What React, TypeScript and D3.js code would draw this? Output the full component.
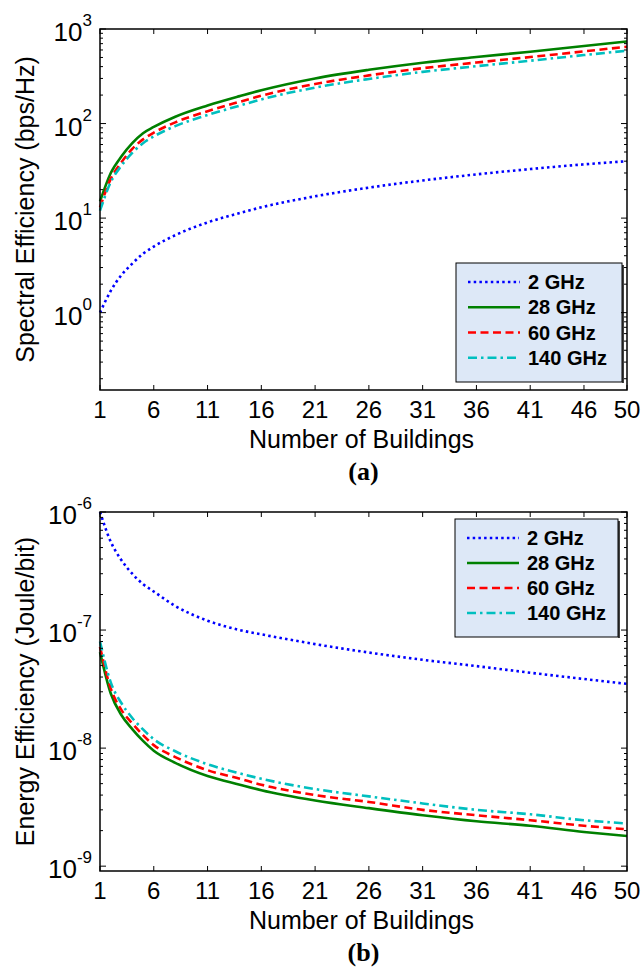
import * as d3 from "d3";

const buildings = [1, 2, 3, 4, 5, 6, 8, 11, 14, 16, 21, 26, 31, 36, 41, 46, 50];
const xTicks = [1, 6, 11, 16, 21, 26, 31, 36, 41, 46, 50];
const legendLabels = ["2 GHz", "28 GHz", "60 GHz", "140 GHz"];

// spectral efficiency (bps/Hz)
const se2 = [1.0, 1.7, 2.5, 3.3, 4.2, 5.0, 6.6, 9.0, 11.3, 13.0, 17.0, 21.0, 25.0, 29.0, 33.0, 37.0, 40.0];
const se28 = [15, 30, 45, 62, 79, 92, 118, 155, 195, 225, 300, 370, 440, 505, 575, 660, 740];
const se60 = [13, 26, 39, 54, 68, 80, 103, 135, 170, 197, 262, 323, 385, 442, 505, 580, 650];
const se140 = [12, 24, 36, 49, 62, 73, 94, 123, 155, 180, 240, 296, 352, 404, 462, 530, 590];

// energy efficiency (Joule/bit)
const ee2 = [1.0e-6, 5.6e-7, 3.9e-7, 3.0e-7, 2.45e-7, 2.12e-7, 1.6e-7, 1.2e-7, 1.0e-7, 9.2e-8, 7.6e-8, 6.45e-8, 5.6e-8, 4.95e-8, 4.35e-8, 3.85e-8, 3.5e-8];
const ee28 = [6.5e-8, 2.9e-8, 1.9e-8, 1.45e-8, 1.15e-8, 9.5e-9, 7.5e-9, 5.8e-9, 4.9e-9, 4.4e-9, 3.6e-9, 3.1e-9, 2.7e-9, 2.4e-9, 2.2e-9, 1.95e-9, 1.8e-9];
const ee60 = [7.2e-8, 3.2e-8, 2.1e-8, 1.62e-8, 1.29e-8, 1.06e-8, 8.4e-9, 6.5e-9, 5.5e-9, 4.9e-9, 4.0e-9, 3.5e-9, 3.0e-9, 2.7e-9, 2.45e-9, 2.2e-9, 2.05e-9];
const ee140 = [8.0e-8, 3.6e-8, 2.4e-8, 1.8e-8, 1.44e-8, 1.19e-8, 9.4e-9, 7.3e-9, 6.1e-9, 5.5e-9, 4.5e-9, 3.9e-9, 3.4e-9, 3.0e-9, 2.75e-9, 2.45e-9, 2.3e-9];

const styles = [
  { color: "#0000ff", dash: "2.5,3.2" },
  { color: "#008000", dash: null },
  { color: "#ff0000", dash: "8,4.5" },
  { color: "#00bfbf", dash: "9,4,2.5,4" },
];

const FONT = "Arial, 'Liberation Sans', sans-serif";

function Panel({ top, bottom, domain, series, yTitle, caption, legendBox }) {
  const left = 100;
  const right = 627;
  const x = d3.scaleLinear().domain([1, 50]).range([left, right]);
  const y = d3.scaleLog().domain(domain).range([bottom, top]);
  const line = d3
    .line<number>()
    .x((_, i) => x(buildings[i]))
    .y((d) => y(d))
    .curve(d3.curveMonotoneX);

  const lo = Math.floor(Math.log10(domain[0]));
  const hi = Math.ceil(Math.log10(domain[1]));
  const major: number[] = [];
  const minor: number[] = [];
  for (let k = lo; k <= hi; k++) {
    const p = Math.pow(10, k);
    if (p >= domain[0] * 0.999 && p <= domain[1] * 1.001) major.push(k);
    for (let m = 2; m <= 9; m++) {
      const v = m * p;
      if (v > domain[0] && v < domain[1]) minor.push(v);
    }
  }

  const [lx, ly, lw, lh] = legendBox;
  const rowGap = (lh - 18) / 4;

  return (
    <g>
      <rect x={left} y={top} width={right - left} height={bottom - top} fill="white" />
      {series.map((s, i) => (
        <path
          key={i}
          d={line(s)}
          fill="none"
          stroke={styles[i].color}
          strokeWidth={2.6}
          strokeDasharray={styles[i].dash || undefined}
        />
      ))}
      {/* legend */}
      <rect x={lx} y={ly} width={lw} height={lh} fill="#dde8f7" stroke="black" strokeWidth={1} />
      <line x1={lx + lw + 1} y1={ly + 2} x2={lx + lw + 1} y2={ly + lh + 1} stroke="black" strokeWidth={1.5} />
      {legendLabels.map((lab, i) => {
        const cy = ly + 17 + rowGap * i + 2;
        return (
          <g key={lab}>
            <line
              x1={lx + 12}
              x2={lx + 64}
              y1={cy}
              y2={cy}
              stroke={styles[i].color}
              strokeWidth={2.6}
              strokeDasharray={styles[i].dash || undefined}
            />
            <text x={lx + 72} y={cy + 7} fontFamily={FONT} fontWeight="bold" fontSize={20}>
              {lab}
            </text>
          </g>
        );
      })}
      {/* box */}
      <rect x={left} y={top} width={right - left} height={bottom - top} fill="none" stroke="black" strokeWidth={1.5} />
      {xTicks.map((t) => (
        <g key={t}>
          <line x1={x(t)} x2={x(t)} y1={bottom} y2={bottom - 5} stroke="black" />
          <line x1={x(t)} x2={x(t)} y1={top} y2={top + 5} stroke="black" />
          <text x={x(t)} y={bottom + 28} textAnchor="middle" fontFamily={FONT} fontSize={24}>
            {t}
          </text>
        </g>
      ))}
      {major.map((k) => (
        <g key={k}>
          <line x1={left} x2={left + 6} y1={y(Math.pow(10, k))} y2={y(Math.pow(10, k))} stroke="black" />
          <line x1={right} x2={right - 6} y1={y(Math.pow(10, k))} y2={y(Math.pow(10, k))} stroke="black" />
          <text x={left - 8} y={y(Math.pow(10, k)) + 12} textAnchor="end" fontFamily={FONT} fontSize={26}>
            10
            <tspan dy={-15} fontSize={17}>
              {k}
            </tspan>
          </text>
        </g>
      ))}
      {minor.map((v, i) => (
        <g key={i}>
          <line x1={left} x2={left + 3} y1={y(v)} y2={y(v)} stroke="black" />
          <line x1={right} x2={right - 3} y1={y(v)} y2={y(v)} stroke="black" />
        </g>
      ))}
      <text
        transform={`translate(34,${(top + bottom) / 2}) rotate(-90)`}
        textAnchor="middle"
        fontFamily={FONT}
        fontSize={25}
      >
        {yTitle}
      </text>
      <text x={(left + right) / 2 - 2} y={bottom + 58} textAnchor="middle" fontFamily={FONT} fontSize={25}>
        Number of Buildings
      </text>
      <text
        x={(left + right) / 2}
        y={bottom + 90}
        textAnchor="middle"
        fontFamily="'Liberation Serif', 'Times New Roman', serif"
        fontWeight="bold"
        fontSize={26}
      >
        {caption}
      </text>
    </g>
  );
}

export default function App() {
  return (
    <svg
      width={644}
      height={971}
      style={{ position: "absolute", left: 0, top: 0, background: "white" }}
    >
      <rect width={644} height={971} fill="white" />
      <Panel
        top={29}
        bottom={390}
        domain={[0.152, 1000]}
        series={[se2, se28, se60, se140]}
        yTitle="Spectral Efficiency (bps/Hz)"
        caption="(a)"
        legendBox={[456, 263, 166, 119]}
      />
      <Panel
        top={512}
        bottom={871}
        domain={[9.1e-10, 1e-6]}
        series={[ee2, ee28, ee60, ee140]}
        yTitle="Energy Efficiency (Joule/bit)"
        caption="(b)"
        legendBox={[455, 519, 163, 118]}
      />
    </svg>
  );
}
